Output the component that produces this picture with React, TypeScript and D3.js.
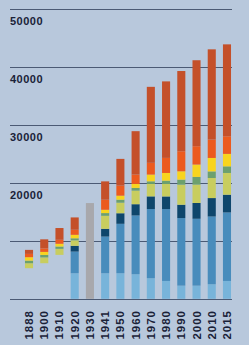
import React from "react";
import * as d3 from "d3";

const years = ["1888","1900","1910","1920","1930","1941","1950","1960","1970","1980","1990","2000","2010","2015"];
const unrecorded = [5280, 6140, 7580, 0, 0, 0, 0, 0, 0, 0, 0, 0, 0, 0];
const lightBlue = [0, 0, 0, 4410, 0, 4410, 4410, 4240, 3550, 3080, 2270, 2270, 2510, 3080];
const midBlue = [0, 0, 0, 3740, 0, 6330, 8530, 10140, 11940, 12400, 11660, 11540, 11690, 11820];
const navy = [0, 0, 0, 990, 0, 1330, 1820, 1940, 2180, 2180, 2300, 2720, 3180, 3060];
const khaki = [860, 1000, 1040, 950, 0, 2250, 1820, 2340, 2150, 2150, 3460, 3170, 3460, 3750];
const green = [450, 430, 400, 350, 0, 470, 520, 470, 450, 570, 870, 1330, 1140, 1140];
const yellow = [590, 520, 470, 600, 0, 570, 690, 690, 1160, 1330, 1440, 2130, 2320, 2150];
const orange = [570, 610, 690, 870, 0, 1730, 1730, 1610, 2030, 2600, 3460, 3170, 3170, 3040];
const rust = [690, 1560, 2030, 2130, 0, 3170, 4620, 7490, 13110, 13200, 13840, 14830, 15570, 15860];
const totalOnly = [0, 0, 0, 0, 16520, 0, 0, 0, 0, 0, 0, 0, 0, 0];

const gridValues = [0, 10000, 20000, 30000, 40000, 50000];
const labelValues = [20000, 30000, 40000, 50000];

const seriesKeys = ["unrecorded","lightBlue","midBlue","navy","khaki","green","yellow","orange","rust","totalOnly"];
const seriesData: Record<string, number[]> = { unrecorded, lightBlue, midBlue, navy, khaki, green, yellow, orange, rust, totalOnly };
const colors: Record<string, string> = {
  unrecorded: "none",
  lightBlue: "#78b4da",
  midBlue: "#488cbc",
  navy: "#0e466c",
  khaki: "#c8cd5f",
  green: "#6ca06e",
  yellow: "#f8d41e",
  orange: "#ec5a1e",
  rust: "#c4502a",
  totalOnly: "#a8a8ac",
};

const W = 249, H = 345;

export default function App() {
  const rows = years.map((y, i) => {
    const r: any = { year: y };
    seriesKeys.forEach(k => { r[k] = seriesData[k][i]; });
    return r;
  });
  const stacked = d3.stack<any>().keys(seriesKeys)(rows);
  const x = d3.scaleBand<string>().domain(years).range([21.4, 234.6]).paddingInner(0.47).paddingOuter(0.235);
  const y = d3.scaleLinear().domain([0, 50000]).range([298.8, 9]);
  const textColor = "#1a2238";
  const font = "'Liberation Sans', Arial, sans-serif";

  return (
    <svg width={W} height={H} style={{ position: "absolute", left: 0, top: 0 }}>
      <rect x={0} y={0} width={W} height={H} fill="#b8c8dc" />
      {gridValues.map(v => (
        <line key={v} x1={10} x2={232} y1={Math.round(y(v)) + 0.5} y2={Math.round(y(v)) + 0.5} stroke="#4b5a74" strokeWidth={1} />
      ))}
      {labelValues.map(v => (
        <text key={v} x={10} y={y(v) + 16} fontFamily={font} fontWeight="bold" fontSize={11} letterSpacing={0.5} fill={textColor}>{v}</text>
      ))}
      {stacked.map(s => (
        <g key={s.key} fill={colors[s.key]}>
          {s.map((d, i) => d[1] - d[0] > 0 ? (
            <rect key={i} x={x(years[i])} width={x.bandwidth()} y={y(d[1])} height={y(d[0]) - y(d[1])} />
          ) : null)}
        </g>
      ))}
      {years.map(yr => {
        const cx = (x(yr) as number) + x.bandwidth() / 2 + 4;
        return (
          <text key={yr} transform={`translate(${cx},310) rotate(-90)`} textAnchor="end" fontFamily={font} fontWeight="bold" fontSize={11.5} letterSpacing={1} fill={textColor}>{yr}</text>
        );
      })}
    </svg>
  );
}
